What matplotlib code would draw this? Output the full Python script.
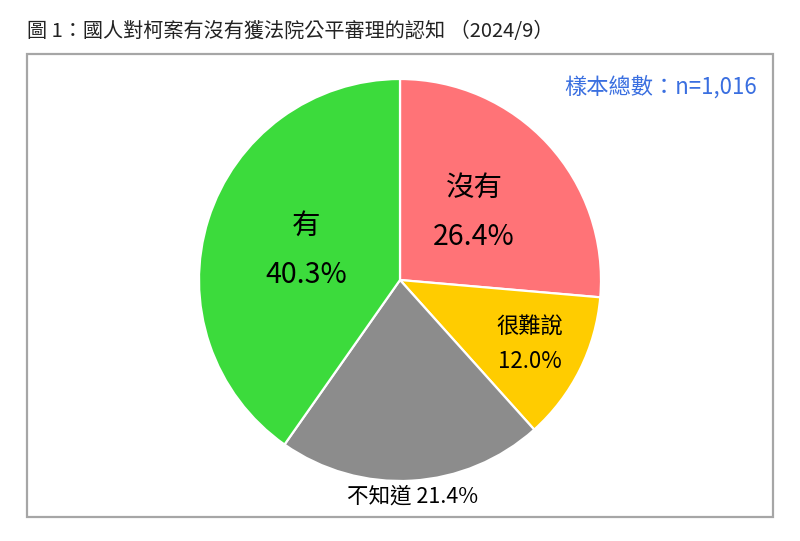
import numpy as np
import matplotlib
matplotlib.use('Agg')
import matplotlib.pyplot as plt
from matplotlib.patches import Rectangle

plt.rcParams['font.family'] = ['Noto Sans CJK TC', 'DejaVu Sans']

labels = ['沒有', '很難說', '不知道', '有']
values = [26.4, 12.0, 21.4, 40.3]
colors = ['#FF7377', '#FFCC00', '#8C8C8C', '#3CDB3C']
title = '圖 1：國人對柯案有沒有獲法院公平審理的認知 （2024/9）'
sample_note = '樣本總數：n=1,016'

# label placement per slice: (distance from centre, font size, line spacing, one line?)
label_style = [(0.50, 20.5, 1.85, False),
               (0.72, 16, 1.65, False),
               (1.08, 15.5, 1.0, True),
               (0.49, 20.5, 1.85, False)]

W, H = 800, 541
fig = plt.figure(figsize=(W / 100, H / 100), dpi=100)

# outer frame
fig.patches.append(Rectangle((27 / W, 1 - 517 / H), (773 - 27) / W, (517 - 54) / H,
                             transform=fig.transFigure, fill=False,
                             edgecolor='#A6A6A6', linewidth=1.6))

fig.text(27 / W, 1 - 31 / H, title, fontsize=14.5, va='center', ha='left',
         color='#222222')
fig.text(757 / W, 1 - 87 / H, sample_note, fontsize=16, va='center', ha='right',
         color='#3A6FE0')

cx, cy, r = 400, 280, 201
ax = fig.add_axes([(cx - r) / W, 1 - (cy + r) / H, 2 * r / W, 2 * r / H])
wedges, _ = ax.pie(values, colors=colors, startangle=90, counterclock=False,
                   wedgeprops=dict(edgecolor='white', linewidth=1.6))
ax.set_xlim(-1, 1)
ax.set_ylim(-1, 1)
ax.set_aspect('auto')
ax.axis('off')

for w, lab, v, (dist, fs, ls, oneline) in zip(wedges, labels, values, label_style):
    ang = np.deg2rad((w.theta1 + w.theta2) / 2)
    x, y = dist * np.cos(ang), dist * np.sin(ang)
    txt = f'{lab} {v:.1f}%' if oneline else f'{lab}\n{v:.1f}%'
    ax.text(x, y, txt, ha='center', va='center', fontsize=fs,
            linespacing=ls, color='black', fontweight='medium')

fig.savefig('out.png', dpi=100)
